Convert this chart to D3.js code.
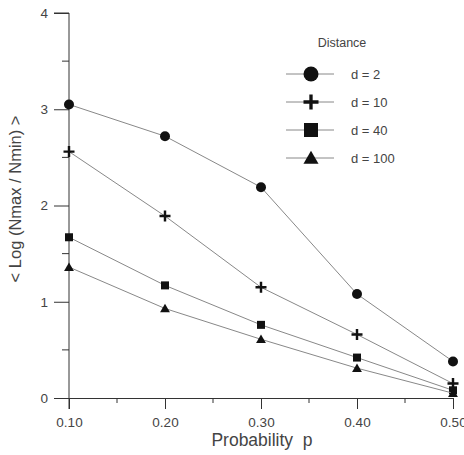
<!DOCTYPE html>
<html>
<head>
<meta charset="utf-8">
<script src="https://cdn.jsdelivr.net/npm/d3@7"></script>
<style>
  body { margin: 0; background: #fff; }
  text { font-family: "Liberation Sans", Arial, sans-serif; fill: #444; }
</style>
</head>
<body>
<svg></svg>
<script>

var probs = [0.10, 0.20, 0.30, 0.40, 0.50]
var xTicks = ["0.10", "0.20", "0.30", "0.40", "0.50"]
var yTicks = [0, 1, 2, 3, 4]

var d2   = [3.05, 2.72, 2.19, 1.08, 0.38]
var d10  = [2.56, 1.89, 1.15, 0.66, 0.15]
var d40  = [1.67, 1.17, 0.76, 0.42, 0.08]
var d100 = [1.36, 0.93, 0.61, 0.31, 0.05]

var seriesNames = ["d = 2", "d = 10", "d = 40", "d = 100"]
var seriesData = [d2, d10, d40, d100]
var symbols = ["circle", "plus", "square", "triangle"]

var width = 464;
var height = 455;
var margins = { top: 13, bottom: 57, left: 69, right: 11 }

var svg = d3.select("svg")
  .attr("width", width)
  .attr("height", height)

var xScale = d3.scaleLinear()
  .domain([0.10, 0.50])
  .range([margins.left, width - margins.right])

var yScale = d3.scaleLinear()
  .domain([0, 4])
  .range([height - margins.bottom, margins.top])

var axisColor = "#333"

// x axis
var xAxis = d3.axisBottom(xScale)
  .tickValues(probs)
  .tickFormat(function(d, i){ return xTicks[i]; })
  .tickSize(11)
  .tickPadding(8)

var gx = svg.append("g")
  .attr("transform", "translate(0," + yScale(0) + ")")
  .call(xAxis)
gx.select(".domain").attr("stroke", axisColor)
gx.selectAll(".tick line").attr("stroke", axisColor)
gx.selectAll("text").style("font-size", "13.5px").attr("fill", "#444")

// x minor ticks
svg.append("g")
  .selectAll("line")
  .data([0.15, 0.25, 0.35, 0.45])
  .enter()
  .append("line")
  .attr("x1", function(d){ return xScale(d); })
  .attr("x2", function(d){ return xScale(d); })
  .attr("y1", yScale(0))
  .attr("y2", yScale(0) + 5)
  .attr("stroke", axisColor)

// y axis
var yAxis = d3.axisLeft(yScale)
  .tickValues(yTicks)
  .tickFormat(d3.format("d"))
  .tickSize(15)
  .tickPadding(6)

var gy = svg.append("g")
  .attr("transform", "translate(" + margins.left + ",0)")
  .call(yAxis)
gy.select(".domain").attr("stroke", axisColor).attr("d", "M-15," + yScale(4) + "H0V" + (yScale(0) + 11))
gy.selectAll(".tick line").attr("stroke", axisColor)
gy.selectAll("text").style("font-size", "13.5px").attr("fill", "#444")

// y minor ticks
svg.append("g")
  .selectAll("line")
  .data([0.5, 1.5, 2.5, 3.5])
  .enter()
  .append("line")
  .attr("x1", margins.left - 7)
  .attr("x2", margins.left)
  .attr("y1", function(d){ return yScale(d); })
  .attr("y2", function(d){ return yScale(d); })
  .attr("stroke", axisColor)

// axis labels
svg.append("text")
  .attr("x", 262)
  .attr("y", 446)
  .attr("text-anchor", "middle")
  .style("font-size", "17.5px")
  .style("white-space", "pre")
  .text("Probability  p")

svg.append("text")
  .attr("transform", "translate(21,199) rotate(-90)")
  .attr("text-anchor", "middle")
  .style("font-size", "16.5px")
  .text("< Log (Nmax / Nmin) >")

// marker drawing
var drawMarker = function(g, type, s)
{
  if (type == "circle") {
    g.append("circle").attr("r", s / 2).attr("fill", "#111")
  } else if (type == "square") {
    g.append("rect").attr("x", -s / 2).attr("y", -s / 2)
      .attr("width", s).attr("height", s).attr("fill", "#111")
  } else if (type == "triangle") {
    g.append("path")
      .attr("d", "M0," + (-s * 0.55) + "L" + (s * 0.58) + "," + (s * 0.45) + "L" + (-s * 0.58) + "," + (s * 0.45) + "Z")
      .attr("fill", "#111")
  } else {
    g.append("path")
      .attr("d", "M" + (-s / 2) + ",0H" + (s / 2) + "M0," + (-s / 2) + "V" + (s / 2))
      .attr("stroke", "#111")
      .attr("stroke-width", s / 4.5)
      .attr("fill", "none")
  }
}

// lines
var drawLine = d3.line()
  .x(function(d, i){ return xScale(probs[i]); })
  .y(function(d){ return yScale(d); })

var markSizes = [10, 11, 8, 8.5]

seriesData.forEach(function(data, k)
{
  svg.append("path")
    .datum(data)
    .attr("d", drawLine)
    .attr("fill", "none")
    .attr("stroke", "#888")
    .attr("stroke-width", 1)

  data.forEach(function(d, i)
  {
    var g = svg.append("g")
      .attr("transform", "translate(" + xScale(probs[i]) + "," + yScale(d) + ")")
    drawMarker(g, symbols[k], markSizes[k])
  })
})

// legend
var legend = svg.append("g")

legend.append("text")
  .attr("x", 342)
  .attr("y", 47)
  .attr("text-anchor", "middle")
  .style("font-size", "12.5px")
  .text("Distance")

var legendSizes = [15, 15, 14, 13]

seriesNames.forEach(function(name, k)
{
  var ly = 74 + k * 28
  legend.append("line")
    .attr("x1", 286).attr("x2", 334)
    .attr("y1", ly).attr("y2", ly)
    .attr("stroke", "#888")
  var g = legend.append("g").attr("transform", "translate(311," + ly + ")")
  drawMarker(g, symbols[k], legendSizes[k])
  legend.append("text")
    .attr("x", 351)
    .attr("y", ly + 5)
    .style("font-size", "13px")
    .text(name)
})

</script>
</body>
</html>
